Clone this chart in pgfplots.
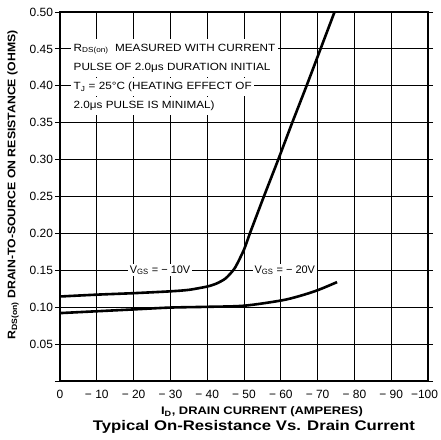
\documentclass[border=0pt]{standalone}
\usepackage{fontspec}
\setmainfont{Liberation Sans}
\newfontfamily\titlefont[FakeStretch=1.2]{Liberation Sans}
\newfontfamily\labfont[FakeStretch=1.18]{Liberation Sans}
\newfontfamily\ylabfont[FakeStretch=1.12]{Liberation Sans}
\newfontfamily\notefont[FakeStretch=1.12]{Liberation Sans}
\usepackage{pgfplots}
\pgfplotsset{compat=1.18}
\begin{document}
\begin{tikzpicture}[x=1bp,y=1bp]
\useasboundingbox (0,0) rectangle (441,440);
\begin{axis}[
  at={(60bp,59bp)}, anchor=south west,
  width=368bp, height=369bp, scale only axis,
  x dir=reverse, xmin=-100, xmax=0, ymin=0, ymax=0.5,
  xtick={0,-10,-20,-30,-40,-50,-60,-70,-80,-90,-100},
  xticklabels={0,− 10,− 20,− 30,− 40,− 50,− 60,− 70,− 80,− 90,\hspace*{-7bp}−100},
  ytick={0,0.05,0.1,0.15,0.2,0.25,0.3,0.35,0.4,0.45,0.5},
  yticklabels={,0.05,0.10,0.15,0.20,0.25,0.30,0.35,0.40,0.45,0.50},
  grid=major, major grid style={black, line width=0.9bp},
  axis line style={line width=2.6bp},
  tick label style={font=\fontsize{12}{14}\selectfont},
  xtick style={draw=none},
  ytick style={black, line width=0.9bp},
  tick align=outside, major tick length=5bp,
  xticklabel style={yshift=-0.5bp},
  yticklabel style={xshift=1.5bp},
  clip=true,
]
\addplot[black, line width=2.6bp, smooth, tension=0.4] coordinates {
(0,0.1145) (-10,0.117) (-20,0.119) (-30,0.1215) (-35,0.1235) (-40,0.128) (-42.5,0.132) (-45,0.139) (-47.5,0.153) (-50,0.178) (-51.6,0.20) (-55.4,0.25) (-59.3,0.30) (-63.1,0.35) (-67,0.40) (-70.8,0.45) (-74.6,0.50)
};
\addplot[black, line width=2.6bp, smooth, tension=0.5] coordinates {
(0,0.092) (-10,0.0945) (-20,0.097) (-30,0.0995) (-40,0.1005) (-50,0.102) (-60,0.109) (-65,0.115) (-70,0.123) (-75.3,0.134)
};
\node[fill=white, inner sep=1.5bp, font=\fontsize{11}{12}\selectfont] at (axis cs:-27.2,0.15) {V\textsubscript{GS} = − 10V};
\node[fill=white, inner sep=1.5bp, font=\fontsize{11}{12}\selectfont] at (axis cs:-61.1,0.15) {V\textsubscript{GS} = − 20V};
\end{axis}
\begin{scope}[every node/.style={anchor=west, fill=white, inner xsep=2.5bp, inner ysep=4.5bp, font=\notefont\fontsize{10.5}{12}\selectfont}]
\node at (71,391) {R\textsubscript{DS(on)}\ \ MEASURED WITH CURRENT};
\node at (71,372) {PULSE OF 2.0μs DURATION INITIAL};
\node at (71,353) {T\textsubscript{J} = 25°C (HEATING EFFECT OF};
\node at (71,334) {2.0μs PULSE IS MINIMAL)};
\end{scope}
\node[rotate=90, font=\ylabfont\bfseries\fontsize{11}{13}\selectfont] at (13,255) {R\textsubscript{DS(on)} DRAIN-TO-SOURCE ON RESISTANCE (OHMS)};
\node[font=\labfont\bfseries\fontsize{11}{13}\selectfont] at (262,28) {I\textsubscript{D}, DRAIN CURRENT (AMPERES)};
\node[font=\titlefont\bfseries\fontsize{14}{16}\selectfont] at (254,13) {Typical On-Resistance Vs. Drain Current};
\end{tikzpicture}
\end{document}
